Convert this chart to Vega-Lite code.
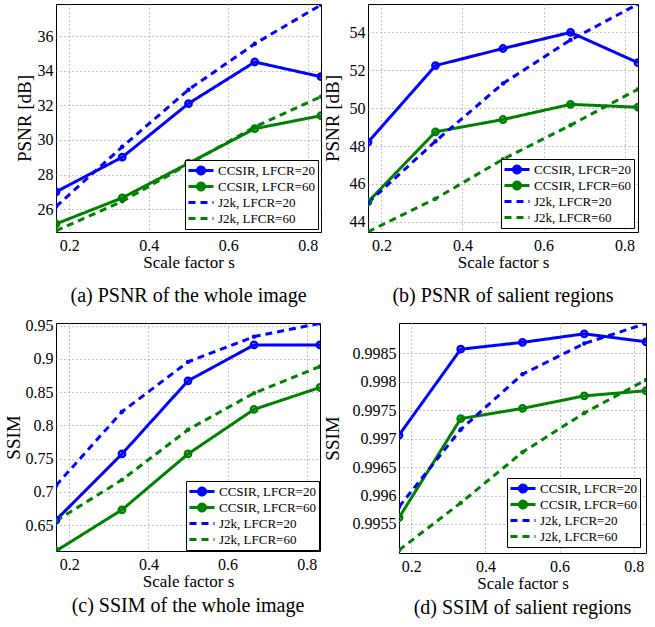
{
  "$schema": "https://vega.github.io/schema/vega-lite/v6.json",
  "padding": {"top": 3, "left": 3, "right": 2, "bottom": 2},
  "background": "white",
  "config": {
    "font": "Liberation Serif",
    "view": {"stroke": "black", "strokeWidth": 1},
    "axis": {"grid": true, "gridColor": "#8a8a8a", "gridDash": [1, 3], "gridWidth": 1, "domain": false, "ticks": false, "labelFont": "Liberation Serif", "labelFontSize": 16, "labelColor": "black", "titleFont": "Liberation Serif", "titleFontWeight": "normal", "titleColor": "black", "labelPadding": 3},
    "axisX": {"labelPadding": 5, "titlePadding": 1, "labelFlush": false, "titleFontSize": 17},
    "axisY": {"titlePadding": 4, "titleFontSize": 19},
    "title": {"font": "Liberation Serif", "fontSize": 20, "fontWeight": "normal", "color": "black", "orient": "bottom", "offset": 16},
    "legend": {"orient": "bottom-right", "offset": 3, "strokeColor": "black", "fillColor": "white", "padding": 3, "labelFont": "Liberation Serif", "labelFontSize": 13, "labelColor": "black", "symbolSize": 144, "symbolStrokeWidth": 3, "rowPadding": 1, "clipHeight": 15, "labelOffset": 15}
  },
  "datasets": {
    "a": [
      {"s": 0.1667, "series": "CCSIR, LFCR=20", "v": 27.0},
      {"s": 0.3333, "series": "CCSIR, LFCR=20", "v": 29.0},
      {"s": 0.5, "series": "CCSIR, LFCR=20", "v": 32.1},
      {"s": 0.6667, "series": "CCSIR, LFCR=20", "v": 34.5},
      {"s": 0.8333, "series": "CCSIR, LFCR=20", "v": 33.65},
      {"s": 0.1667, "series": "CCSIR, LFCR=60", "v": 25.15},
      {"s": 0.3333, "series": "CCSIR, LFCR=60", "v": 26.65},
      {"s": 0.5, "series": "CCSIR, LFCR=60", "v": 28.65},
      {"s": 0.6667, "series": "CCSIR, LFCR=60", "v": 30.65},
      {"s": 0.8333, "series": "CCSIR, LFCR=60", "v": 31.4},
      {"s": 0.1667, "series": "J2k, LFCR=20", "v": 26.15},
      {"s": 0.3333, "series": "J2k, LFCR=20", "v": 29.6},
      {"s": 0.5, "series": "J2k, LFCR=20", "v": 32.9},
      {"s": 0.6667, "series": "J2k, LFCR=20", "v": 35.55},
      {"s": 0.8333, "series": "J2k, LFCR=20", "v": 37.8},
      {"s": 0.1667, "series": "J2k, LFCR=60", "v": 24.75},
      {"s": 0.3333, "series": "J2k, LFCR=60", "v": 26.45},
      {"s": 0.5, "series": "J2k, LFCR=60", "v": 28.6},
      {"s": 0.6667, "series": "J2k, LFCR=60", "v": 30.75},
      {"s": 0.8333, "series": "J2k, LFCR=60", "v": 32.5}
    ],
    "b": [
      {"s": 0.1667, "series": "CCSIR, LFCR=20", "v": 48.2},
      {"s": 0.3333, "series": "CCSIR, LFCR=20", "v": 52.25},
      {"s": 0.5, "series": "CCSIR, LFCR=20", "v": 53.15},
      {"s": 0.6667, "series": "CCSIR, LFCR=20", "v": 54.0},
      {"s": 0.8333, "series": "CCSIR, LFCR=20", "v": 52.4},
      {"s": 0.1667, "series": "CCSIR, LFCR=60", "v": 45.05},
      {"s": 0.3333, "series": "CCSIR, LFCR=60", "v": 48.75},
      {"s": 0.5, "series": "CCSIR, LFCR=60", "v": 49.4},
      {"s": 0.6667, "series": "CCSIR, LFCR=60", "v": 50.2},
      {"s": 0.8333, "series": "CCSIR, LFCR=60", "v": 50.05},
      {"s": 0.1667, "series": "J2k, LFCR=20", "v": 45.0},
      {"s": 0.3333, "series": "J2k, LFCR=20", "v": 48.25},
      {"s": 0.5, "series": "J2k, LFCR=20", "v": 51.3},
      {"s": 0.6667, "series": "J2k, LFCR=20", "v": 53.6},
      {"s": 0.8333, "series": "J2k, LFCR=20", "v": 55.5},
      {"s": 0.1667, "series": "J2k, LFCR=60", "v": 43.47},
      {"s": 0.3333, "series": "J2k, LFCR=60", "v": 45.22},
      {"s": 0.5, "series": "J2k, LFCR=60", "v": 47.3},
      {"s": 0.6667, "series": "J2k, LFCR=60", "v": 49.1},
      {"s": 0.8333, "series": "J2k, LFCR=60", "v": 51.0}
    ],
    "c": [
      {"s": 0.1667, "series": "CCSIR, LFCR=20", "v": 0.6575},
      {"s": 0.3333, "series": "CCSIR, LFCR=20", "v": 0.757},
      {"s": 0.5, "series": "CCSIR, LFCR=20", "v": 0.867},
      {"s": 0.6667, "series": "CCSIR, LFCR=20", "v": 0.921},
      {"s": 0.8333, "series": "CCSIR, LFCR=20", "v": 0.921},
      {"s": 0.1667, "series": "CCSIR, LFCR=60", "v": 0.611},
      {"s": 0.3333, "series": "CCSIR, LFCR=60", "v": 0.673},
      {"s": 0.5, "series": "CCSIR, LFCR=60", "v": 0.757},
      {"s": 0.6667, "series": "CCSIR, LFCR=60", "v": 0.824},
      {"s": 0.8333, "series": "CCSIR, LFCR=60", "v": 0.857},
      {"s": 0.1667, "series": "J2k, LFCR=20", "v": 0.7095},
      {"s": 0.3333, "series": "J2k, LFCR=20", "v": 0.8205},
      {"s": 0.5, "series": "J2k, LFCR=20", "v": 0.8955},
      {"s": 0.6667, "series": "J2k, LFCR=20", "v": 0.9335},
      {"s": 0.8333, "series": "J2k, LFCR=20", "v": 0.9535},
      {"s": 0.1667, "series": "J2k, LFCR=60", "v": 0.6565},
      {"s": 0.3333, "series": "J2k, LFCR=60", "v": 0.718},
      {"s": 0.5, "series": "J2k, LFCR=60", "v": 0.7935},
      {"s": 0.6667, "series": "J2k, LFCR=60", "v": 0.8485},
      {"s": 0.8333, "series": "J2k, LFCR=60", "v": 0.8885}
    ],
    "d": [
      {"s": 0.1667, "series": "CCSIR, LFCR=20", "v": 0.99706},
      {"s": 0.3333, "series": "CCSIR, LFCR=20", "v": 0.99857},
      {"s": 0.5, "series": "CCSIR, LFCR=20", "v": 0.99869},
      {"s": 0.6667, "series": "CCSIR, LFCR=20", "v": 0.99884},
      {"s": 0.8333, "series": "CCSIR, LFCR=20", "v": 0.9987},
      {"s": 0.1667, "series": "CCSIR, LFCR=60", "v": 0.99561},
      {"s": 0.3333, "series": "CCSIR, LFCR=60", "v": 0.99735},
      {"s": 0.5, "series": "CCSIR, LFCR=60", "v": 0.99753},
      {"s": 0.6667, "series": "CCSIR, LFCR=60", "v": 0.99775},
      {"s": 0.8333, "series": "CCSIR, LFCR=60", "v": 0.99784},
      {"s": 0.1667, "series": "J2k, LFCR=20", "v": 0.9958},
      {"s": 0.3333, "series": "J2k, LFCR=20", "v": 0.99716},
      {"s": 0.5, "series": "J2k, LFCR=20", "v": 0.99813},
      {"s": 0.6667, "series": "J2k, LFCR=20", "v": 0.99867},
      {"s": 0.8333, "series": "J2k, LFCR=20", "v": 0.99902},
      {"s": 0.1667, "series": "J2k, LFCR=60", "v": 0.99504},
      {"s": 0.3333, "series": "J2k, LFCR=60", "v": 0.99587},
      {"s": 0.5, "series": "J2k, LFCR=60", "v": 0.99676},
      {"s": 0.6667, "series": "J2k, LFCR=60", "v": 0.99745},
      {"s": 0.8333, "series": "J2k, LFCR=60", "v": 0.99803}
    ]
  },
  "columns": 2,
  "align": {"row": "each", "column": "none"},
  "spacing": {"row": 10, "column": 0},
  "concat": [
    {
      "width": 265, "height": 228,
      "title": {"text": "(a) PSNR of the whole image"},
      "data": {"name": "a"},
      "encoding": {
        "x": {"field": "s", "type": "quantitative", "scale": {"domain": [0.1667, 0.8333], "nice": false, "zero": false}, "axis": {"title": "Scale factor s", "values": [0.2, 0.4, 0.6, 0.8], "format": "~g"}},
        "y": {"field": "v", "type": "quantitative", "scale": {"domain": [24.68, 37.85], "nice": false, "zero": false}, "axis": {"title": "PSNR [dB]", "titlePadding": 3, "values": [26, 28, 30, 32, 34, 36], "format": "~g"}},
        "color": {"field": "series", "type": "nominal", "scale": {"domain": ["CCSIR, LFCR=20", "CCSIR, LFCR=60", "J2k, LFCR=20", "J2k, LFCR=60"], "range": ["#0000ff", "#008000", "#0000ff", "#008000"]}, "legend": {"title": null, "offset": 3, "encode": {"symbols": {"update": {"shape": {"signal": "indexof(datum.value,'CCSIR')>=0 ? 'M-1.17,0H3M1.5,0A0.58,0.58,0,1,1,0.33,0A0.58,0.58,0,1,1,1.5,0' : 'M-1.17,0H3'"}, "fill": {"value": "transparent"}}}}}}
      },
      "layer": [
        {"mark": {"type": "line", "strokeWidth": 3, "clip": true}, "encoding": {"strokeDash": {"field": "series", "type": "nominal", "scale": {"domain": ["CCSIR, LFCR=20", "CCSIR, LFCR=60", "J2k, LFCR=20", "J2k, LFCR=60"], "range": [[1, 0], [1, 0], [7, 5], [7, 5]]}, "legend": {"title": null, "offset": 3, "encode": {"symbols": {"update": {"shape": {"signal": "indexof(datum.value,'CCSIR')>=0 ? 'M-1.17,0H3M1.5,0A0.58,0.58,0,1,1,0.33,0A0.58,0.58,0,1,1,1.5,0' : 'M-1.17,0H3'"}, "fill": {"value": "transparent"}}}}}}}},
        {"transform": [{"filter": "indexof(datum.series,'CCSIR')>=0"}], "mark": {"type": "point", "shape": "circle", "filled": false, "size": 40, "strokeWidth": 2.5, "opacity": 1, "clip": true}, "encoding": {"color": {"field": "series", "type": "nominal", "legend": null}}},
        {"transform": [{"filter": "indexof(datum.series,'J2k')>=0"}], "mark": {"type": "point", "shape": "circle", "filled": true, "size": 20, "opacity": 1, "clip": true}, "encoding": {"color": {"field": "series", "type": "nominal", "legend": null}}}
      ]
    },
    {
      "width": 270, "height": 228,
      "title": {"text": "(b) PSNR of salient regions"},
      "data": {"name": "b"},
      "encoding": {
        "x": {"field": "s", "type": "quantitative", "scale": {"domain": [0.1667, 0.8333], "nice": false, "zero": false}, "axis": {"title": "Scale factor s", "values": [0.2, 0.4, 0.6, 0.8], "format": "~g"}},
        "y": {"field": "v", "type": "quantitative", "scale": {"domain": [43.46, 55.5], "nice": false, "zero": false}, "axis": {"title": "PSNR [dB]", "titlePadding": 7, "values": [44, 46, 48, 50, 52, 54], "format": "~g"}},
        "color": {"field": "series", "type": "nominal", "scale": {"domain": ["CCSIR, LFCR=20", "CCSIR, LFCR=60", "J2k, LFCR=20", "J2k, LFCR=60"], "range": ["#0000ff", "#008000", "#0000ff", "#008000"]}, "legend": {"title": null, "offset": 4, "encode": {"symbols": {"update": {"shape": {"signal": "indexof(datum.value,'CCSIR')>=0 ? 'M-1.17,0H3M1.5,0A0.58,0.58,0,1,1,0.33,0A0.58,0.58,0,1,1,1.5,0' : 'M-1.17,0H3'"}, "fill": {"value": "transparent"}}}}}}
      },
      "layer": [
        {"mark": {"type": "line", "strokeWidth": 3, "clip": true}, "encoding": {"strokeDash": {"field": "series", "type": "nominal", "scale": {"domain": ["CCSIR, LFCR=20", "CCSIR, LFCR=60", "J2k, LFCR=20", "J2k, LFCR=60"], "range": [[1, 0], [1, 0], [7, 5], [7, 5]]}, "legend": {"title": null, "offset": 4, "encode": {"symbols": {"update": {"shape": {"signal": "indexof(datum.value,'CCSIR')>=0 ? 'M-1.17,0H3M1.5,0A0.58,0.58,0,1,1,0.33,0A0.58,0.58,0,1,1,1.5,0' : 'M-1.17,0H3'"}, "fill": {"value": "transparent"}}}}}}}},
        {"transform": [{"filter": "indexof(datum.series,'CCSIR')>=0"}], "mark": {"type": "point", "shape": "circle", "filled": false, "size": 40, "strokeWidth": 2.5, "opacity": 1, "clip": true}, "encoding": {"color": {"field": "series", "type": "nominal", "legend": null}}},
        {"transform": [{"filter": "indexof(datum.series,'J2k')>=0"}], "mark": {"type": "point", "shape": "circle", "filled": true, "size": 20, "opacity": 1, "clip": true}, "encoding": {"color": {"field": "series", "type": "nominal", "legend": null}}}
      ]
    },
    {
      "width": 264, "height": 228,
      "title": {"text": "(c) SSIM of the whole image", "offset": 7},
      "data": {"name": "c"},
      "encoding": {
        "x": {"field": "s", "type": "quantitative", "scale": {"domain": [0.1667, 0.8333], "nice": false, "zero": false}, "axis": {"title": "Scale factor s", "values": [0.2, 0.4, 0.6, 0.8], "format": "~g"}},
        "y": {"field": "v", "type": "quantitative", "scale": {"domain": [0.611, 0.954], "nice": false, "zero": false}, "axis": {"title": "SSIM", "titlePadding": 2, "values": [0.65, 0.7, 0.75, 0.8, 0.85, 0.9, 0.95], "format": "~g"}},
        "color": {"field": "series", "type": "nominal", "scale": {"domain": ["CCSIR, LFCR=20", "CCSIR, LFCR=60", "J2k, LFCR=20", "J2k, LFCR=60"], "range": ["#0000ff", "#008000", "#0000ff", "#008000"]}, "legend": {"title": null, "offset": 1, "encode": {"symbols": {"update": {"shape": {"signal": "indexof(datum.value,'CCSIR')>=0 ? 'M-1.17,0H3M1.5,0A0.58,0.58,0,1,1,0.33,0A0.58,0.58,0,1,1,1.5,0' : 'M-1.17,0H3'"}, "fill": {"value": "transparent"}}}}}}
      },
      "layer": [
        {"mark": {"type": "line", "strokeWidth": 3, "clip": true}, "encoding": {"strokeDash": {"field": "series", "type": "nominal", "scale": {"domain": ["CCSIR, LFCR=20", "CCSIR, LFCR=60", "J2k, LFCR=20", "J2k, LFCR=60"], "range": [[1, 0], [1, 0], [7, 5], [7, 5]]}, "legend": {"title": null, "offset": 1, "encode": {"symbols": {"update": {"shape": {"signal": "indexof(datum.value,'CCSIR')>=0 ? 'M-1.17,0H3M1.5,0A0.58,0.58,0,1,1,0.33,0A0.58,0.58,0,1,1,1.5,0' : 'M-1.17,0H3'"}, "fill": {"value": "transparent"}}}}}}}},
        {"transform": [{"filter": "indexof(datum.series,'CCSIR')>=0"}], "mark": {"type": "point", "shape": "circle", "filled": false, "size": 40, "strokeWidth": 2.5, "opacity": 1, "clip": true}, "encoding": {"color": {"field": "series", "type": "nominal", "legend": null}}},
        {"transform": [{"filter": "indexof(datum.series,'J2k')>=0"}], "mark": {"type": "point", "shape": "circle", "filled": true, "size": 20, "opacity": 1, "clip": true}, "encoding": {"color": {"field": "series", "type": "nominal", "legend": null}}}
      ]
    },
    {
      "width": 247, "height": 230,
      "title": {"text": "(d) SSIM of salient regions", "offset": 7},
      "data": {"name": "d"},
      "encoding": {
        "x": {"field": "s", "type": "quantitative", "scale": {"domain": [0.1667, 0.8333], "nice": false, "zero": false}, "axis": {"title": "Scale factor s", "values": [0.2, 0.4, 0.6, 0.8], "format": "~g"}},
        "y": {"field": "v", "type": "quantitative", "scale": {"domain": [0.99499, 0.99903], "nice": false, "zero": false}, "axis": {"title": "SSIM", "titlePadding": 10, "values": [0.9955, 0.996, 0.9965, 0.997, 0.9975, 0.998, 0.9985], "format": "~g"}},
        "color": {"field": "series", "type": "nominal", "scale": {"domain": ["CCSIR, LFCR=20", "CCSIR, LFCR=60", "J2k, LFCR=20", "J2k, LFCR=60"], "range": ["#0000ff", "#008000", "#0000ff", "#008000"]}, "legend": {"title": null, "offset": 6, "encode": {"symbols": {"update": {"shape": {"signal": "indexof(datum.value,'CCSIR')>=0 ? 'M-1.17,0H3M1.5,0A0.58,0.58,0,1,1,0.33,0A0.58,0.58,0,1,1,1.5,0' : 'M-1.17,0H3'"}, "fill": {"value": "transparent"}}}}}}
      },
      "layer": [
        {"mark": {"type": "line", "strokeWidth": 3, "clip": true}, "encoding": {"strokeDash": {"field": "series", "type": "nominal", "scale": {"domain": ["CCSIR, LFCR=20", "CCSIR, LFCR=60", "J2k, LFCR=20", "J2k, LFCR=60"], "range": [[1, 0], [1, 0], [7, 5], [7, 5]]}, "legend": {"title": null, "offset": 6, "encode": {"symbols": {"update": {"shape": {"signal": "indexof(datum.value,'CCSIR')>=0 ? 'M-1.17,0H3M1.5,0A0.58,0.58,0,1,1,0.33,0A0.58,0.58,0,1,1,1.5,0' : 'M-1.17,0H3'"}, "fill": {"value": "transparent"}}}}}}}},
        {"transform": [{"filter": "indexof(datum.series,'CCSIR')>=0"}], "mark": {"type": "point", "shape": "circle", "filled": false, "size": 40, "strokeWidth": 2.5, "opacity": 1, "clip": true}, "encoding": {"color": {"field": "series", "type": "nominal", "legend": null}}},
        {"transform": [{"filter": "indexof(datum.series,'J2k')>=0"}], "mark": {"type": "point", "shape": "circle", "filled": true, "size": 20, "opacity": 1, "clip": true}, "encoding": {"color": {"field": "series", "type": "nominal", "legend": null}}}
      ]
    }
  ],
  "resolve": {"scale": {"color": "independent", "strokeDash": "independent"}, "legend": {"color": "independent", "strokeDash": "independent"}}
}
